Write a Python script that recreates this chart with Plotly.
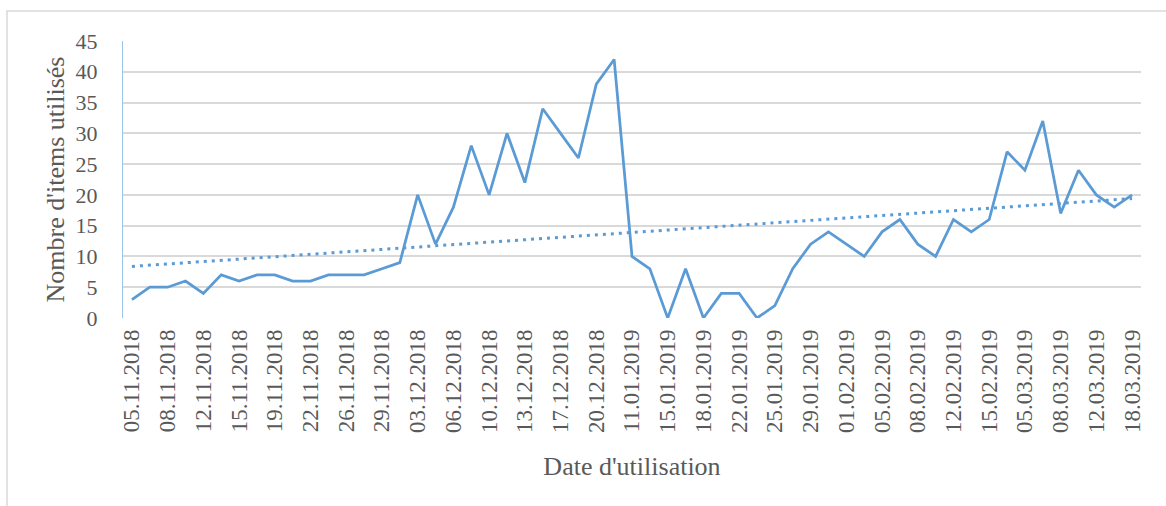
import numpy as np
import plotly.graph_objects as go

# Dates (every second one is shown as a tick label)
dates = [
    "05.11.2018", "07.11.2018", "08.11.2018", "09.11.2018", "12.11.2018", "14.11.2018",
    "15.11.2018", "16.11.2018", "19.11.2018", "21.11.2018", "22.11.2018", "23.11.2018",
    "26.11.2018", "28.11.2018", "29.11.2018", "30.11.2018", "03.12.2018", "05.12.2018",
    "06.12.2018", "07.12.2018", "10.12.2018", "12.12.2018", "13.12.2018", "14.12.2018",
    "17.12.2018", "19.12.2018", "20.12.2018", "21.12.2018", "11.01.2019", "14.01.2019",
    "15.01.2019", "17.01.2019", "18.01.2019", "21.01.2019", "22.01.2019", "24.01.2019",
    "25.01.2019", "28.01.2019", "29.01.2019", "31.01.2019", "01.02.2019", "04.02.2019",
    "05.02.2019", "07.02.2019", "08.02.2019", "11.02.2019", "12.02.2019", "14.02.2019",
    "15.02.2019", "04.03.2019", "05.03.2019", "07.03.2019", "08.03.2019", "11.03.2019",
    "12.03.2019", "14.03.2019", "18.03.2019",
]

items_used = [
    3, 5, 5, 6, 4, 7, 6, 7, 7, 6, 6, 7, 7, 7, 8, 9,
    20, 12, 18, 28, 20, 30, 22, 34, 30, 26, 38, 42,
    10, 8, 0, 8, 0, 4, 4, 0, 2, 8,
    12, 14, 12, 10, 14, 16, 12, 10, 16, 14, 16,
    27, 24, 32, 17, 24, 20, 18, 20,
]

tick_labels = dates[::2]
y_ticks = [0, 5, 10, 15, 20, 25, 30, 35, 40, 45]

# Linear trend line (as in the spreadsheet trendline)
idx = np.arange(len(items_used))
slope, intercept = np.polyfit(idx, items_used, 1)
trend = slope * idx + intercept

LINE_COLOR = "#5B9BD5"
TEXT_COLOR = "#595959"
GRID_COLOR = "#D9D9D9"
FONT = "Times New Roman, Liberation Serif, serif"

fig = go.Figure()
fig.add_trace(go.Scatter(
    x=dates, y=items_used, mode="lines",
    line=dict(color=LINE_COLOR, width=2.75),
    showlegend=False, hoverinfo="x+y",
))
fig.add_trace(go.Scatter(
    x=dates, y=trend, mode="lines",
    line=dict(color=LINE_COLOR, width=3, dash="3px,5px"),
    showlegend=False, hoverinfo="skip",
))

L, R, T, B = 123, 25, 41, 188
W, H = 1166, 506
pw, ph = W - L - R, H - T - B

fig.update_layout(
    width=W, height=H,
    margin=dict(l=L, r=R, t=T, b=B, autoexpand=False),
    paper_bgcolor="white", plot_bgcolor="white",
    font=dict(family=FONT, color=TEXT_COLOR, size=22),
    xaxis=dict(
        type="category",
        categoryorder="array", categoryarray=dates,
        range=[-0.5, len(dates) - 0.5],
        tickmode="array", tickvals=tick_labels, ticktext=tick_labels,
        tickangle=-90,
        tickfont=dict(family=FONT, size=23, color=TEXT_COLOR),
        ticks="", ticklabelstandoff=6,
        showgrid=False, showline=False, zeroline=False,
        automargin=False,
        title=dict(text="Date d'utilisation", font=dict(family=FONT, size=26, color=TEXT_COLOR), standoff=24),
    ),
    yaxis=dict(
        range=[0, 45],
        tickmode="array", tickvals=y_ticks,
        tickfont=dict(family=FONT, size=22, color=TEXT_COLOR),
        ticks="", ticklabelstandoff=20,
        showgrid=True, gridcolor=GRID_COLOR, gridwidth=2,
        showline=True, linecolor="#9DC3E6", linewidth=1,
        zeroline=False,
        automargin=False,
        title=dict(text="Nombre d'items utilisés", font=dict(family=FONT, size=26, color=TEXT_COLOR), standoff=3),
    ),
)

# outer chart frame (extends past the right and bottom edges)
fig.add_shape(
    type="rect", xref="paper", yref="paper",
    x0=(7 - L) / pw, x1=(W + 10 - L) / pw,
    y0=(T + ph - (H + 10)) / ph, y1=(T + ph - 11) / ph,
    line=dict(color=GRID_COLOR, width=1.5), layer="below",
)

fig.write_html(
    "out.html",
    config={"displayModeBar": False},
    post_script="document.body.style.margin='0';document.body.style.overflow='hidden';",
)
